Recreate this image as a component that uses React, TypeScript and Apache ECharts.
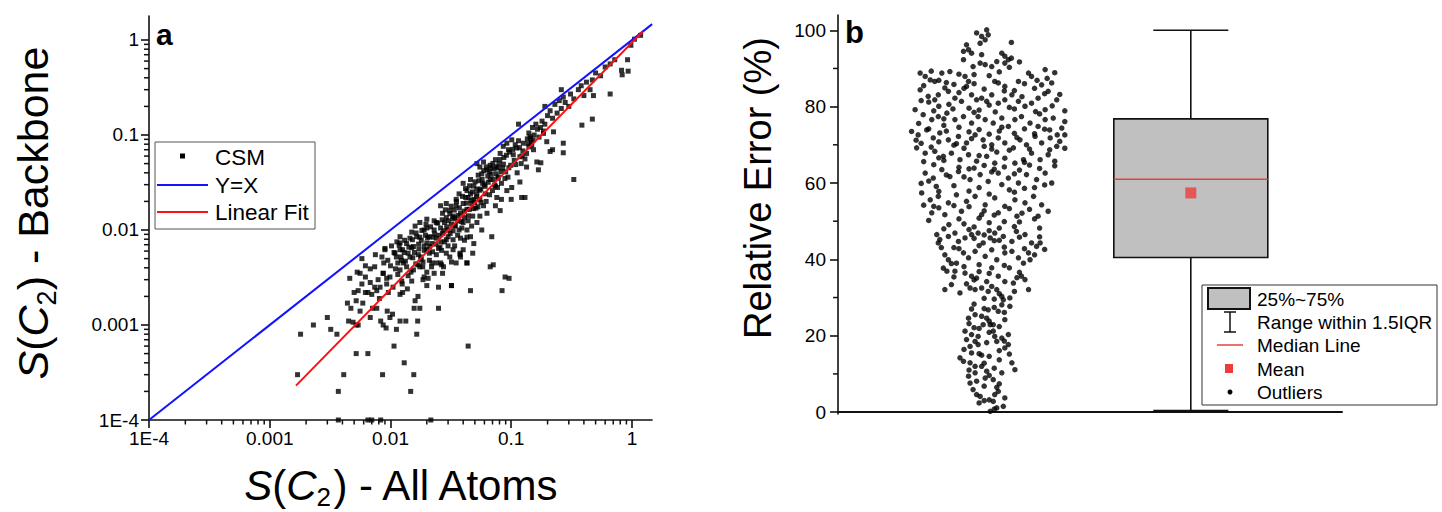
import React, { useEffect, useRef } from "react";
import * as echarts from "echarts";

// ---------- Panel a : S(C2) backbone vs all atoms (log-log) ----------
const csmPoints: [number, number][] = [
  [0.0018,0.0008],[0.0017,0.0003],[0.0023,0.001],[0.003,0.0012],[0.0032,0.0009],[0.0036,0.0008],[0.0037,0.0002],[0.0041,0.0003],
  [0.0052,0.0005],[0.0065,0.0005],[0.0058,0.005],[0.0046,0.0031],[0.0053,0.0036],[0.0056,0.0035],[0.0062,0.0032],[0.0068,0.0039],
  [0.005,0.0022],[0.0054,0.0023],[0.0044,0.0017],[0.0047,0.0015],[0.0056,0.0014],[0.0052,0.0018],[0.0059,0.0017],[0.0045,0.0011],
  [0.0052,0.001],[0.0054,0.001],[0.0049,0.00107],[0.0062,0.0022],[0.0065,0.0022],[0.007,0.0021],[0.0077,0.0023],[0.0082,0.0025],
  [0.0074,0.0025],[0.0079,0.003],[0.0087,0.0035],[0.0093,0.0031],[0.0068,0.0012],[0.0071,0.0015],[0.0077,0.0015],[0.0083,0.0011],
  [0.0087,0.001],[0.0092,0.00093],[0.0094,0.0014],[0.0099,0.0012],[0.0104,0.0013],[0.0107,0.0006],[0.0112,0.0009],[0.012,0.0011],
  [0.0134,0.0011],[0.013,0.0004],[0.0086,0.0003],[0.0147,0.0002],[0.0156,0.0003],[0.0165,0.0008],[0.0168,0.0011],[0.0157,0.0015],
  [0.0175,0.0015],[0.016,0.0018],[0.0169,0.002],[0.012,0.0021],[0.0126,0.0022],[0.025,0.0015],[0.032,0.0026],[0.046,0.0023],
  [0.044,0.0006],[0.009,0.0062],[0.0109,0.0057],[0.012,0.0073],[0.0126,0.0062],[0.014,0.0057],[0.015,0.0065],[0.0115,0.0045],
  [0.0123,0.0048],[0.0175,0.0084],[0.02,0.0073],[0.0225,0.0084],[0.0257,0.0066],[0.029,0.0079],[0.033,0.0062],[0.0377,0.0055],
  [0.043,0.0084],[0.048,0.0057],[0.0153,0.0051],[0.0169,0.0043],[0.0186,0.0046],[0.02,0.0036],[0.0219,0.0041],[0.024,0.0045],
  [0.0265,0.0043],[0.027,0.0035],[0.0186,0.003],[0.02,0.0026],[0.032,0.0046],[0.0377,0.0057],[0.043,0.0045],
  [0.0037,0.0001],[0.0065,0.0001],[0.007,0.0001],[0.0083,0.0001],[0.0216,0.0001],
  [0.052,0.05],[0.055,0.046],[0.059,0.052],[0.063,0.043],[0.067,0.048],[0.074,0.055],[0.078,0.045],[0.081,0.064],[0.086,0.076],
  [0.092,0.082],[0.095,0.07],[0.101,0.089],[0.104,0.062],[0.111,0.073],[0.118,0.059],[0.126,0.082],[0.134,0.064],[0.143,0.096],
  [0.153,0.07],[0.163,0.052],[0.168,0.043],[0.185,0.104],[0.197,0.085],[0.21,0.067],[0.224,0.108],[0.134,0.046],[0.067,0.034],
  [0.074,0.029],[0.078,0.035],[0.083,0.021],[0.076,0.022],[0.092,0.026],[0.101,0.028],[0.118,0.032],[0.122,0.022],[0.081,0.016],
  [0.074,0.018],[0.04,0.031],[0.043,0.026],[0.046,0.034],[0.049,0.029],[0.044,0.022],[0.052,0.024],[0.055,0.021],[0.047,0.019],
  [0.059,0.018],[0.063,0.015],[0.055,0.014],[0.052,0.012],[0.057,0.01],[0.069,0.0085],[0.026,0.018],[0.027,0.015],[0.029,0.019],
  [0.031,0.016],[0.033,0.014],[0.035,0.018],[0.038,0.015],[0.04,0.012],[0.037,0.01],[0.043,0.01],[0.046,0.0085],[0.049,0.0072],
  [0.04,0.0062],[0.038,0.0052],[0.033,0.0079],[0.03,0.01],[0.028,0.012],[0.034,0.011],[0.0175,0.012],[0.019,0.01],[0.02,0.013],
  [0.021,0.0085],[0.023,0.01],[0.024,0.012],[0.0165,0.0085],[0.0155,0.0067],[0.0136,0.0072],[0.0145,0.0052],[0.012,0.0062],
  [0.0128,0.0045],[0.0112,0.0052],[0.02,0.0062],[0.021,0.0048],[0.0175,0.0041],[0.0155,0.0038],[0.019,0.0032],[0.023,0.0035],
  [0.026,0.0045],[0.029,0.0057],[0.031,0.0052],[0.035,0.0045],[0.043,0.0045],[0.025,0.0025],[0.032,0.0026],[0.0099,0.0032],
  [0.0087,0.0035],[0.0105,0.0025],[0.0093,0.0027],[0.0124,0.0029],[0.009,0.0064],[0.012,0.0085],[0.067,0.0041],[0.089,0.0032],
  [0.015,0.0095],[0.016,0.011],[0.018,0.0078],[0.019,0.0068],[0.022,0.0072],[0.024,0.0082],[0.025,0.0064],[0.027,0.0092],
  [0.028,0.0075],[0.03,0.0068],[0.032,0.0115],[0.034,0.0135],[0.036,0.0088],[0.039,0.0105],[0.041,0.0078],[0.044,0.0125],
  [0.045,0.0165],[0.048,0.014],[0.05,0.0195],[0.053,0.0175],[0.056,0.027],[0.058,0.031],[0.061,0.024],[0.064,0.037],
  [0.066,0.041],[0.07,0.026],[0.072,0.044],[0.075,0.039],[0.079,0.05],[0.083,0.031],[0.087,0.058],[0.09,0.041],[0.094,0.036],
  [0.097,0.066],[0.099,0.048],[0.106,0.054],[0.108,0.079],[0.112,0.04],[0.115,0.087],[0.121,0.05],[0.125,0.068],[0.13,0.056],
  [0.136,0.091],[0.14,0.075],[0.147,0.083],[0.012,0.0038],[0.013,0.0058],[0.014,0.0033],[0.0145,0.0082],[0.017,0.0055],
  [0.018,0.0049],[0.02,0.0105],[0.021,0.0057],[0.023,0.0125],[0.026,0.0105],[0.029,0.0135],[0.031,0.0148],[0.033,0.0098],
  [0.035,0.021],[0.037,0.024],[0.04,0.019],[0.042,0.022],[0.046,0.024],[0.051,0.017],[0.054,0.033],[0.057,0.039],[0.06,0.03],
  [0.062,0.02],[0.068,0.045],[0.071,0.034],[0.077,0.028],[0.085,0.045],[0.01,0.0042],[0.0107,0.0058],[0.0115,0.0034],
  [0.0118,0.0069],[0.0125,0.0027],[0.0133,0.0047],[0.0138,0.0024],[0.015,0.0029],[0.0162,0.0044],[0.0172,0.0063],
  [0.0185,0.0041],[0.0195,0.0088],[0.0205,0.0031],[0.022,0.0045],[0.024,0.0055],[0.0265,0.0061],[0.0275,0.0041],[0.03,0.0085],
  [0.034,0.0068],[0.036,0.0125],[0.038,0.0082],[0.041,0.0135],[0.043,0.0165],[0.047,0.011],[0.049,0.021],[0.052,0.027],
  [1.18,1.12],[1.05,1.02],[0.98,0.88],[0.92,0.62],[0.82,0.48],[0.72,0.62],[0.66,0.56],[0.6,0.52],[0.55,0.42],[0.5,0.45],
  [0.47,0.38],[0.45,0.3],[0.42,0.36],[0.4,0.26],[0.38,0.33],[0.36,0.3],[0.33,0.24],[0.31,0.27],[0.3,0.2],[0.28,0.22],
  [0.27,0.25],[0.26,0.19],[0.25,0.23],[0.24,0.17],[0.23,0.21],[0.22,0.15],[0.21,0.18],[0.2,0.16],[0.19,0.13],[0.185,0.11],
  [0.18,0.14],[0.175,0.12],[0.17,0.095],[0.165,0.115],[0.16,0.13],[0.155,0.1],[0.15,0.12],[0.148,0.078],[0.145,0.092],
  [0.14,0.105],[0.93,0.47],[0.83,0.43],[0.66,0.27],[0.48,0.26],[0.385,0.127],[0.47,0.147],[0.27,0.082],[0.27,0.065],
  [0.33,0.034],[0.22,0.07],[0.176,0.051],[0.13,0.022],[0.1,0.021],[0.096,0.0031],[0.084,0.0023],[0.071,0.0043],
  [0.26,0.3],[0.115,0.13],[0.19,0.2],
  [0.0095,0.0048],[0.0102,0.0068],[0.011,0.0039],[0.0113,0.0075],[0.0122,0.0052],[0.0131,0.0078],[0.0136,0.0041],[0.0142,0.0066],
  [0.0148,0.0036],[0.0152,0.0079],[0.0158,0.0058],[0.0163,0.0093],[0.0171,0.0071],[0.0178,0.0052],[0.0182,0.0099],[0.0191,0.0061],
  [0.0197,0.0115],[0.0203,0.0083],[0.0211,0.0067],[0.0215,0.0108],[0.0223,0.0059],[0.0232,0.0091],[0.0238,0.0071],[0.0246,0.0118],
  [0.0253,0.0088],[0.0262,0.0075],[0.0268,0.0128],[0.0276,0.0098],[0.0285,0.0163],[0.0292,0.0108],[0.0301,0.0125],[0.0312,0.0092],
  [0.0318,0.0178],[0.0327,0.0131],[0.0338,0.0162],[0.0345,0.0112],[0.0352,0.0199],[0.0363,0.0142],[0.0372,0.0171],[0.0386,0.0123],
  [0.0395,0.0226],[0.0408,0.0158],[0.0418,0.0273],[0.0427,0.0192],[0.0441,0.0141],[0.0452,0.0292],[0.0466,0.0205],[0.0478,0.0252],
  [0.0487,0.0168],[0.0502,0.0321],[0.0516,0.0223],[0.0533,0.0378],[0.0548,0.0262],[0.0562,0.0195],[0.0574,0.0341],[0.0592,0.0421],
  [0.0608,0.0288],[0.0621,0.0462],[0.0645,0.0318],[0.0662,0.0235],[0.0683,0.0385],[0.0705,0.0502],[0.0728,0.0298],[0.0752,0.0462],
  [0.0781,0.0362],[0.0805,0.0551],[0.0823,0.0412],[0.0862,0.0493],[0.0887,0.0348],[0.0912,0.0612],[0.0956,0.0452],[0.103,0.0705],
  [0.109,0.0488],[0.117,0.0735],[0.123,0.0602],[0.138,0.0812],[0.152,0.0885],[0.0068,0.0028],[0.0074,0.0041],[0.0081,0.0019],
  [0.0088,0.0045],[0.0096,0.0022],[0.0058,0.0027],[0.0062,0.0042],[0.0075,0.0055],[0.0085,0.0052]
];
const yEqualsX: [number, number][] = [[0.0001, 0.0001], [1.47, 1.47]];
const linearFit: [number, number][] = [[0.00165, 0.00023], [1.23, 1.23]];
const logTicks = [0.0001, 0.001, 0.01, 0.1, 1];
const logTickLabels = ["1E-4", "0.001", "0.01", "0.1", "1"];
const leftLegendLabels = ["CSM", "Y=X", "Linear Fit"];

// ---------- Panel b : relative error ----------
const relErrPoints: [number, number][] = [
  [0.275,99.3],[0.285,98.4],[0.295,100.1],[0.298,98.8],[0.292,97.5],[0.282,96.6],[0.344,96.8],
  [0.255,96.2],[0.249,94.5],[0.259,94.9],[0.265,94.0],
  [0.325,94.0],[0.331,93.2],[0.338,92.3],[0.344,92.7],[0.331,91.4],[0.315,91.8],[0.305,90.5],[0.292,91.0],[0.282,91.4],
  [0.249,92.3],[0.268,90.5],[0.163,88.8],[0.173,87.9],[0.183,87.0],[0.192,86.6],
  [0.206,88.8],[0.222,89.2],[0.252,87.9],[0.259,86.6],[0.255,85.3],
  [0.311,86.6],[0.318,86.2],[0.331,85.3],[0.358,86.6],[0.378,88.8],[0.384,87.9],[0.411,89.7],[0.404,85.7],[0.424,86.2],[0.417,84.0],[0.434,81.8],
  [0.163,84.4],[0.179,82.7],[0.192,81.8],[0.199,83.1],[0.212,84.9],[0.219,84.0],[0.232,82.2],[0.245,81.4],[0.265,83.1],[0.275,81.8],
  [0.285,82.2],[0.295,81.4],[0.305,83.1],[0.318,80.9],[0.331,81.8],[0.345,83.1],[0.358,81.4],[0.371,80.1],[0.384,80.9],[0.397,82.2],[0.411,79.2],
  [0.153,79.2],[0.169,77.9],[0.186,76.6],[0.199,77.4],[0.216,78.3],[0.232,76.6],[0.249,77.4],[0.265,75.7],[0.278,77.4],[0.292,76.6],
  [0.308,75.7],[0.325,77.0],[0.338,74.8],[0.351,76.6],[0.364,77.4],[0.381,75.7],[0.397,74.8],[0.411,76.6],[0.427,77.0],[0.444,74.4],
  [0.146,73.5],[0.159,72.6],[0.176,73.9],[0.189,71.8],[0.202,73.1],[0.219,71.3],[0.239,72.2],[0.255,70.5],[0.272,72.6],[0.288,71.3],
  [0.305,70.0],[0.318,71.8],[0.331,70.5],[0.348,69.2],[0.361,71.3],[0.374,70.0],[0.391,72.2],[0.404,70.5],[0.421,71.8],[0.434,69.6],[0.45,72.6],
  [0.156,69.2],[0.173,67.8],[0.192,68.3],[0.209,67.0],[0.225,67.8],[0.242,66.1],[0.259,67.4],[0.275,65.7],[0.295,67.0],[0.311,65.2],
  [0.331,66.5],[0.351,65.2],[0.368,66.1],[0.384,67.8],[0.401,66.1],[0.417,67.4],[0.43,65.7],
  [0.173,62.6],[0.189,61.3],[0.206,63.5],[0.222,61.7],[0.239,63.0],[0.262,60.9],[0.282,62.2],[0.298,60.4],[0.318,62.6],[0.338,61.3],
  [0.358,60.0],[0.374,62.2],[0.394,60.9],[0.411,62.6],[0.424,60.0],
  [0.166,57.4],[0.183,55.6],[0.199,56.5],[0.219,54.8],[0.235,56.9],[0.255,55.2],[0.272,56.5],[0.292,54.3],[0.311,56.1],[0.331,53.9],
  [0.351,55.6],[0.371,54.8],[0.388,56.5],[0.404,54.3],[0.417,52.6],[0.186,52.2],[0.212,51.7],[0.245,52.6],[0.285,51.7],[0.318,52.2],
  [0.355,51.3],[0.397,51.3],
  [0.196,46.5],[0.202,45.2],[0.199,44.3],[0.219,46.0],[0.232,46.9],[0.239,44.7],[0.252,45.6],[0.265,46.5],[0.278,46.9],[0.288,44.3],
  [0.302,45.6],[0.311,46.9],[0.328,46.0],[0.345,44.7],[0.354,47.3],[0.371,46.5],[0.384,44.3],[0.394,43.4],[0.401,44.3],
  [0.212,41.2],[0.219,39.9],[0.235,39.0],[0.249,41.7],[0.259,40.4],[0.272,42.1],[0.292,40.8],[0.305,42.5],[0.315,39.9],[0.331,41.7],
  [0.345,42.1],[0.358,40.4],[0.368,39.0],[0.381,39.9],[0.378,41.7],
  [0.209,37.7],[0.216,36.9],[0.232,36.9],[0.252,36.4],[0.265,35.6],[0.275,35.1],[0.285,32.5],[0.295,34.2],[0.305,32.9],[0.318,35.6],
  [0.331,34.2],[0.348,33.8],[0.364,35.6],[0.371,34.7],[0.212,32.1],[0.225,33.4],[0.242,31.2],[0.262,32.5],[0.272,32.1],[0.298,31.6],
  [0.315,32.1],[0.378,32.1],
  [0.325,30.3],[0.328,29.4],[0.341,29.9],[0.325,28.1],[0.341,27.7],[0.298,26.8],[0.318,26.4],
  [0.259,24.6],[0.272,25.5],[0.285,25.1],[0.295,24.6],[0.288,22.9],[0.302,22.9],[0.308,22.9],[0.331,24.2],
  [0.252,21.2],[0.255,19.0],[0.265,20.3],[0.272,18.5],[0.278,19.8],[0.308,21.2],[0.311,19.8],[0.315,18.5],[0.325,19.4],[0.338,20.3],
  [0.338,17.7],[0.331,16.8],[0.262,17.2],[0.278,17.7],
  [0.242,14.2],[0.249,13.3],[0.262,12.9],[0.272,12.0],[0.285,12.0],[0.295,10.7],[0.292,8.9],[0.308,8.5],[0.325,10.3],[0.345,12.9],
  [0.351,11.1],[0.272,10.3],[0.259,9.4],[0.262,7.6],[0.275,8.1],
  [0.268,5.9],[0.275,4.6],[0.282,4.1],[0.308,2.8],[0.311,4.6],[0.318,5.4],[0.328,1.5],[0.315,1.1],[0.302,0.2],[0.331,3.7],
  [0.17,85.5],[0.2,86.9],[0.23,85.8],[0.27,88.4],[0.29,84.6],[0.32,89.1],[0.35,84.2],[0.37,86.0],[0.39,84.8],[0.43,88.9],
  [0.41,83.4],[0.24,83.7],[0.3,80.4],[0.34,79.8],[0.22,80.6],[0.18,81.2],[0.26,79.6],[0.44,83.2],
  [0.16,75.6],[0.18,74.2],[0.21,75.1],[0.24,74.6],[0.26,73.4],[0.28,74.0],[0.3,72.8],[0.32,73.6],[0.35,73.0],[0.37,74.2],
  [0.39,72.9],[0.42,73.9],[0.45,76.1],[0.2,70.8],[0.23,69.9],[0.34,68.6],[0.44,70.9],[0.155,71.2],[0.27,78.5],[0.4,78.1],
  [0.17,65.6],[0.19,64.8],[0.21,65.9],[0.24,64.1],[0.26,63.7],[0.29,64.6],[0.31,63.6],[0.33,64.2],[0.36,63.4],[0.38,64.7],
  [0.4,63.8],[0.43,64.5],[0.18,60.5],[0.23,59.3],[0.28,58.8],[0.34,58.2],[0.39,58.8],[0.305,68.9],[0.25,69.1],[0.42,68.7],
  [0.17,54.2],[0.2,53.5],[0.24,50.6],[0.26,53.8],[0.29,52.7],[0.3,49.6],[0.34,53.3],[0.36,49.8],[0.38,53.1],[0.39,50.6],
  [0.22,49.1],[0.27,48.5],[0.32,48.2],[0.2,57.8],[0.35,57.6],
  [0.21,48.0],[0.23,43.1],[0.26,47.8],[0.28,43.6],[0.3,47.5],[0.31,44.9],[0.33,43.2],[0.35,48.6],[0.37,42.8],[0.4,45.9],
  [0.41,42.6],[0.25,38.1],[0.28,38.6],[0.3,36.3],[0.34,37.8],[0.36,36.6],[0.27,34.6],[0.32,31.0],[0.35,31.6],[0.23,35.4],
  [0.27,28.3],[0.29,27.1],[0.31,29.6],[0.33,26.1],[0.3,23.8],[0.28,21.9],[0.32,22.4],[0.26,23.2],
  [0.25,16.4],[0.28,15.3],[0.3,14.6],[0.32,16.1],[0.34,15.2],[0.29,12.8],[0.31,11.5],[0.26,11.0],[0.33,18.6],[0.3,20.9],
  [0.29,6.8],[0.3,3.2],[0.32,7.4],[0.28,2.4],[0.31,0.8],
  [0.3,88.1],[0.34,90.3],[0.36,91.7],[0.285,93.6],[0.395,86.9],[0.415,87.4],[0.24,88.5],[0.215,86.3],[0.185,89.3],[0.27,86.0],
  [0.165,81.6],[0.2,80.1],[0.228,79.4],[0.25,84.8],[0.28,79.1],[0.312,78.6],[0.33,84.1],[0.365,82.6],[0.392,78.7],[0.425,80.2],
  [0.45,78.9],[0.19,78.9],[0.35,79.4],[0.21,76.8],
  [0.165,70.4],[0.185,69.4],[0.215,73.6],[0.235,70.3],[0.265,71.6],[0.29,69.6],[0.315,68.1],[0.325,74.6],[0.355,71.9],[0.38,68.9],
  [0.41,74.1],[0.435,72.6],[0.45,69.1],[0.2,66.6],[0.28,67.2],[0.37,65.4],
  [0.165,59.9],[0.195,59.1],[0.215,62.1],[0.25,61.6],[0.27,63.9],[0.305,62.9],[0.325,59.6],[0.35,62.4],[0.37,58.6],[0.41,59.5],
  [0.26,57.9],[0.3,57.1],
  [0.18,50.2],[0.19,53.9],[0.23,54.1],[0.25,49.3],[0.28,50.8],[0.31,51.6],[0.33,49.9],[0.365,52.1],[0.4,48.2],[0.205,43.1],
  [0.24,42.8],[0.27,45.5],[0.29,46.4],[0.32,45.0],[0.36,45.8],[0.39,41.2],
  [0.225,38.9],[0.255,33.6],[0.28,36.8],[0.305,37.8],[0.33,38.4],[0.355,35.2],[0.29,29.8],[0.31,27.4],[0.265,27.0],
  [0.27,22.1],[0.295,18.2],[0.32,13.7],[0.285,14.9],[0.3,9.6],[0.315,6.5],[0.29,3.0],[0.265,15.5]
];
// [min, Q1, median, Q3, max]
const boxStats = [0.4, 40.5, 61.0, 76.8, 100];
const meanRelErr = 57.4;
const boxPosition = 0.7;
const relErrTicks = [0, 20, 40, 60, 80, 100];
const relErrMinorTicks = [10, 30, 50, 70, 90];
const rightLegendLabels = ["25%~75%", "Range within 1.5IQR", "Median Line", "Mean", "Outliers"];

const FONT = "'Liberation Sans', Arial, Helvetica, sans-serif";
const LOG_MIN = 0.0001;

function minorLogTicks(limit: number): number[] {
  const out: number[] = [];
  for (let e = -4; e <= 0; e++) {
    for (let m = 2; m <= 9; m++) {
      const v = m * Math.pow(10, e);
      if (v < limit) out.push(Number(v.toPrecision(3)));
    }
  }
  return out;
}

export default function App() {
  const ref = useRef<HTMLDivElement>(null);
  useEffect(() => {
    if (!ref.current) return;
    const chart = echarts.init(ref.current, undefined, { renderer: "svg" });
    const axisLineStyle = { color: "#111", width: 1.6 };
    const labelFmt = (v: number) => {
      const i = Math.round(Math.log10(v)) + 4;
      return logTickLabels[i] ?? "";
    };
    const titleRich = (size: number, lh: number) => ({
      i: { fontStyle: "italic", fontSize: size, fontFamily: FONT, lineHeight: lh, fill: "#000" },
      n: { fontSize: size, fontFamily: FONT, lineHeight: lh, fill: "#000" },
      s: { fontSize: Math.round(size * 0.62), fontFamily: FONT, lineHeight: Math.round(size * 0.62), verticalAlign: "bottom", fill: "#000" },
    });
    const legTextStyle = (size: number) => ({ fontSize: size, fontFamily: FONT, fill: "#000", verticalAlign: "middle", align: "left" });

    // minor tick marks, placed through the axes' own scales
    const tickSeries = (xi: number, yi: number, data: number[][], dir: "x" | "y", len: number) => ({
      type: "custom", xAxisIndex: xi, yAxisIndex: yi, data, silent: true, clip: false, z: 3,
      encode: { x: 0, y: 1 },
      renderItem: (_p: any, api: any) => {
        const p = api.coord([api.value(0), api.value(1)]);
        const shape = dir === "x"
          ? { x1: p[0], y1: p[1], x2: p[0], y2: p[1] + len }
          : { x1: p[0] - len, y1: p[1], x2: p[0], y2: p[1] };
        return { type: "line", shape, style: { stroke: "#111", lineWidth: 1.5 } };
      },
    });

    const option: any = {
      animation: false,
      backgroundColor: "#fff",
      grid: [
        { left: 149, top: 16, width: 503, height: 404, outerBoundsMode: "none" },
        { left: 838, top: 15, width: 504, height: 399, outerBoundsMode: "none" },
      ],
      xAxis: [
        {
          type: "log", logBase: 10, gridIndex: 0, position: "bottom", min: LOG_MIN, max: 1.466,
          axisLine: { show: true, lineStyle: axisLineStyle },
          axisTick: { show: true, customValues: logTicks, length: 8, lineStyle: axisLineStyle },
          axisLabel: { show: true, customValues: logTicks, formatter: labelFmt, fontSize: 19, fontFamily: FONT, color: "#000", margin: 9 },
          splitLine: { show: false }, minorTick: { show: false },
        },
        {
          type: "value", gridIndex: 1, position: "bottom", min: 0, max: 1,
          axisLine: { show: true, lineStyle: { color: "#111", width: 2 } },
          axisTick: { show: false }, axisLabel: { show: false }, splitLine: { show: false },
        },
      ],
      yAxis: [
        {
          type: "log", logBase: 10, gridIndex: 0, position: "left", min: LOG_MIN, max: 1.789,
          axisLine: { show: true, lineStyle: axisLineStyle },
          axisTick: { show: true, customValues: logTicks, length: 8, lineStyle: axisLineStyle },
          axisLabel: { show: true, customValues: logTicks, formatter: labelFmt, fontSize: 19, fontFamily: FONT, color: "#000", margin: 10 },
          splitLine: { show: false },
        },
        {
          type: "value", gridIndex: 1, position: "left", min: -0.5, max: 104,
          axisLine: { show: true, lineStyle: axisLineStyle },
          axisTick: { show: true, customValues: relErrTicks, length: 8, lineStyle: axisLineStyle },
          axisLabel: { show: true, customValues: relErrTicks, fontSize: 19, fontFamily: FONT, color: "#000", margin: 12 },
          splitLine: { show: false },
        },
      ],
      series: [
        {
          name: leftLegendLabels[0], type: "scatter", xAxisIndex: 0, yAxisIndex: 0, data: csmPoints,
          symbol: "rect", symbolSize: 5, itemStyle: { color: "#000" }, silent: true,
        },
        {
          name: leftLegendLabels[1], type: "line", xAxisIndex: 0, yAxisIndex: 0, data: yEqualsX,
          symbol: "none", lineStyle: { color: "#1212ff", width: 2 }, clip: true, silent: true,
        },
        {
          name: leftLegendLabels[2], type: "line", xAxisIndex: 0, yAxisIndex: 0, data: linearFit,
          symbol: "none", lineStyle: { color: "#ff1010", width: 2 }, clip: true, silent: true,
        },
        tickSeries(0, 0, minorLogTicks(1.466).map((v) => [v, LOG_MIN]), "x", 4.5),
        tickSeries(0, 0, minorLogTicks(1.789).map((v) => [LOG_MIN, v]), "y", 5),
        tickSeries(1, 1, relErrMinorTicks.map((v) => [0, v]), "y", 5),
        {
          name: "Box", type: "custom", xAxisIndex: 1, yAxisIndex: 1,
          data: [[boxPosition, ...boxStats]],
          encode: { x: 0, y: [1, 2, 3, 4, 5] },
          renderItem: (_p: any, api: any) => {
            const x = api.value(0);
            const [cx, yMin] = api.coord([x, api.value(1)]);
            const yQ1 = api.coord([x, api.value(2)])[1];
            const yMed = api.coord([x, api.value(3)])[1];
            const yQ3 = api.coord([x, api.value(4)])[1];
            const yMax = api.coord([x, api.value(5)])[1];
            const bw = 77, cw = 37.5;
            const st = { stroke: "#111", lineWidth: 1.6 };
            return {
              type: "group",
              children: [
                { type: "line", shape: { x1: cx, y1: yQ3, x2: cx, y2: yMax }, style: st },
                { type: "line", shape: { x1: cx, y1: yQ1, x2: cx, y2: yMin }, style: st },
                { type: "line", shape: { x1: cx - cw, y1: yMax, x2: cx + cw, y2: yMax }, style: st },
                { type: "line", shape: { x1: cx - cw, y1: yMin, x2: cx + cw, y2: yMin }, style: st },
                { type: "rect", shape: { x: cx - bw, y: yQ3, width: 2 * bw, height: yQ1 - yQ3 }, style: { fill: "#c0c0c0", stroke: "#111", lineWidth: 1.6 } },
                { type: "line", shape: { x1: cx - bw, y1: yMed, x2: cx + bw, y2: yMed }, style: { stroke: "#e8403c", lineWidth: 1.5 } },
              ],
            };
          },
          silent: true,
        },
        {
          name: rightLegendLabels[3], type: "scatter", xAxisIndex: 1, yAxisIndex: 1,
          data: [[boxPosition, meanRelErr]], symbol: "rect", symbolSize: 11,
          itemStyle: { color: "#ee3b3b" }, z: 5, silent: true,
        },
        {
          name: rightLegendLabels[4], type: "scatter", xAxisIndex: 1, yAxisIndex: 1,
          data: relErrPoints, symbol: "circle", symbolSize: 5.5, itemStyle: { color: "#000" }, silent: true,
        },
      ],
      graphic: [
        // panel letters
        { type: "text", x: 156, y: 34, style: { text: "a", fontSize: 30, fontWeight: "bold", fontFamily: FONT, fill: "#000", align: "left", verticalAlign: "middle" } },
        { type: "text", x: 845, y: 32, style: { text: "b", fontSize: 31, fontWeight: "bold", fontFamily: FONT, fill: "#000", align: "left", verticalAlign: "middle" } },
        // axis titles
        {
          type: "text", x: 33, y: 213, rotation: Math.PI / 2,
          style: { text: "{i|S}{n|(}{i|C}{s|2}{n|) - Backbone}", rich: titleRich(43, 54), align: "center", verticalAlign: "middle", fontSize: 43, fontFamily: FONT, fill: "#000" },
        },
        {
          type: "text", x: 402, y: 485,
          style: { text: "{i|S}{n|(}{i|C}{s|2}{n|) - All Atoms}", rich: titleRich(42, 50), align: "center", verticalAlign: "middle", fontSize: 42, fontFamily: FONT, fill: "#000" },
        },
        {
          type: "text", x: 758, y: 188, rotation: Math.PI / 2,
          style: { text: "Relative Error (%)", fontSize: 38, fontFamily: FONT, fill: "#000", align: "center", verticalAlign: "middle" },
        },
        // left legend
        { type: "rect", shape: { x: 155, y: 142, width: 160, height: 87 }, style: { fill: "#fff", stroke: "#555", lineWidth: 1 }, z: 10 },
        { type: "rect", shape: { x: 180, y: 153.5, width: 5, height: 5 }, style: { fill: "#000" }, z: 11 },
        { type: "line", shape: { x1: 157, y1: 185, x2: 208, y2: 185 }, style: { stroke: "#1212ff", lineWidth: 2 }, z: 11 },
        { type: "line", shape: { x1: 157, y1: 212, x2: 208, y2: 212 }, style: { stroke: "#ff1010", lineWidth: 2 }, z: 11 },
        { type: "text", x: 215, y: 157, style: { text: leftLegendLabels[0], ...legTextStyle(22.5) }, z: 11 },
        { type: "text", x: 215, y: 185, style: { text: leftLegendLabels[1], ...legTextStyle(22.5) }, z: 11 },
        { type: "text", x: 215, y: 212, style: { text: leftLegendLabels[2], ...legTextStyle(22.5) }, z: 11 },
        // right legend
        { type: "rect", shape: { x: 1202, y: 285, width: 235, height: 120 }, style: { fill: "#fff", stroke: "#333", lineWidth: 1 }, z: 10 },
        { type: "rect", shape: { x: 1208, y: 288, width: 42, height: 21 }, style: { fill: "#c0c0c0", stroke: "#111", lineWidth: 2 }, z: 11 },
        { type: "line", shape: { x1: 1230, y1: 312, x2: 1230, y2: 332 }, style: { stroke: "#111", lineWidth: 1.5 }, z: 11 },
        { type: "line", shape: { x1: 1224, y1: 312, x2: 1236, y2: 312 }, style: { stroke: "#111", lineWidth: 1.5 }, z: 11 },
        { type: "line", shape: { x1: 1224, y1: 332, x2: 1236, y2: 332 }, style: { stroke: "#111", lineWidth: 1.5 }, z: 11 },
        { type: "line", shape: { x1: 1217, y1: 345, x2: 1243, y2: 345 }, style: { stroke: "#e8403c", lineWidth: 1.5 }, z: 11 },
        { type: "rect", shape: { x: 1225, y: 364, width: 8, height: 9 }, style: { fill: "#ee3b3b" }, z: 11 },
        { type: "circle", shape: { cx: 1230, cy: 392, r: 2.5 }, style: { fill: "#000" }, z: 11 },
        { type: "text", x: 1257, y: 299, style: { text: rightLegendLabels[0], ...legTextStyle(19) }, z: 11 },
        { type: "text", x: 1257, y: 322, style: { text: rightLegendLabels[1], ...legTextStyle(19) }, z: 11 },
        { type: "text", x: 1257, y: 345, style: { text: rightLegendLabels[2], ...legTextStyle(19) }, z: 11 },
        { type: "text", x: 1257, y: 369, style: { text: rightLegendLabels[3], ...legTextStyle(19) }, z: 11 },
        { type: "text", x: 1257, y: 392, style: { text: rightLegendLabels[4], ...legTextStyle(19) }, z: 11 },
      ],
    };
    chart.setOption(option);
    return () => chart.dispose();
  }, []);
  return <div ref={ref} style={{ position: "fixed", left: 0, top: 0, width: 1442, height: 512, background: "#fff" }} />;
}
